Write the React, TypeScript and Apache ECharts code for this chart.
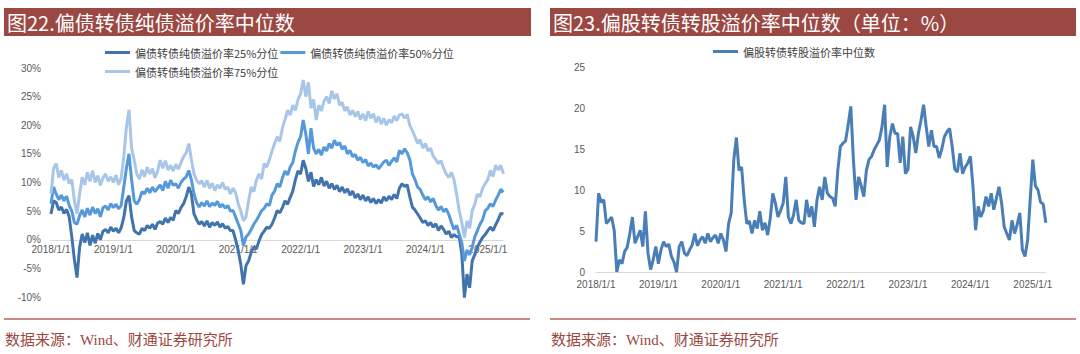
import React, { useEffect, useRef } from "react";
import * as echarts from "echarts";

// ---- Left chart: 偏债转债纯债溢价率 (%), semi-monthly samples from 2018/1/1 ----
const SERIES_LEFT = [
  "偏债转债纯债溢价率25%分位",
  "偏债转债纯债溢价率50%分位",
  "偏债转债纯债溢价率75%分位",
];
const SERIES_RIGHT = "偏股转债转股溢价率中位数";

const p25: number[] = [
  4.5, 6.8, 6.5, 5.2, 5.7, 4.6, 5.3, 4.0, 0.5, -3.5, -6.6, -1.3, 1.0, -0.5, 1.2, -1.0, 0.8, -0.6, 1.1, 0.0, 1.5, 1.8, 1.2, 2.2,
  1.5, 2.0, 1.2, 2.1, 3.9, 6.8, 7.7, 4.0, 1.6, 1.2, 1.0, 2.0, 1.6, 2.5, 2.0, 2.7, 1.8, 2.9, 3.2, 2.7, 3.8, 3.0, 3.9, 3.4,
  5.1, 4.6, 5.6, 6.3, 7.5, 9.2, 8.0, 4.5, 3.5, 2.7, 3.2, 2.4, 3.3, 2.2, 3.0, 2.5, 3.1, 2.2, 2.8, 2.0, 2.3, 1.6, 1.6, 0.0,
  -1.9, -4.3, -7.8, -4.5, -3.7, -2.2, -1.3, -1.6, -0.2, 0.9, 1.5, 2.2, 2.0, 2.7, 3.8, 5.1, 4.7, 5.6, 6.8, 6.2, 7.4, 8.5, 10.5, 12.0,
  11.5, 13.9, 12.5, 10.2, 11.8, 9.3, 10.5, 9.6, 10.9, 9.4, 10.2, 9.0, 9.8, 8.8, 9.5, 8.4, 9.2, 8.2, 8.9, 7.8, 8.5, 7.3, 8.0, 7.0,
  7.8, 6.8, 7.5, 6.5, 7.2, 6.3, 7.0, 6.4, 7.5, 6.8, 7.6, 7.0, 7.9, 7.2, 9.0, 9.8, 9.3, 9.6, 7.5, 5.7, 5.2, 4.5, 3.8, 3.0,
  3.3, 2.5, 3.0, 2.2, 2.8, 1.6, 2.4, 1.8, 1.0, 1.5, 0.4, 0.9, 0.5, 0.6, -2.5, -10.1, -6.0, -8.4, -3.7, -2.6, -1.3, -0.4, 0.4, 0.9,
  1.6, 2.2, 1.6, 2.6, 3.5, 4.6, 4.5,
];
const p50: number[] = [
  6.3, 9.2, 8.0, 7.0, 7.8, 6.8, 7.6, 6.0, 5.0, 3.0, 2.7, 4.2, 5.2, 4.0, 5.5, 4.3, 5.7, 4.6, 5.4, 4.0, 5.6, 5.9, 5.2, 6.3,
  5.6, 6.2, 5.4, 6.0, 9.2, 12.5, 15.0, 10.5, 6.8, 6.2, 7.0, 8.4, 8.0, 9.0, 8.2, 9.2, 8.4, 9.0, 9.6, 8.6, 10.2, 9.0, 10.4, 9.5,
  9.8, 9.0, 10.0, 10.6, 11.0, 12.1, 10.5, 8.0, 6.5, 5.7, 6.5, 5.9, 6.8, 5.8, 6.4, 6.0, 6.7, 5.7, 6.2, 5.5, 6.0, 5.0, 5.1, 4.0,
  2.8, 1.6, -1.0, 0.5, 1.0, 1.8, 2.7, 3.4, 4.2, 5.1, 5.5, 6.3, 6.0, 7.8, 8.5, 9.8, 9.2, 10.8, 12.0, 11.3, 12.7, 13.5, 15.5, 17.0,
  18.0, 20.9, 18.5, 15.0, 19.5, 16.0, 15.0, 15.8, 14.8, 16.2, 15.5, 16.8, 16.0, 17.4, 16.5, 17.0, 15.8, 16.4, 15.0, 15.6, 14.5, 14.9, 13.9, 14.4,
  13.5, 14.0, 12.9, 13.4, 12.7, 13.1, 12.4, 13.0, 13.6, 13.9, 13.0, 13.7, 14.3, 13.6, 15.6, 15.0, 15.9, 15.2, 14.0, 11.5, 10.5, 9.2, 8.8, 7.8,
  7.0, 7.5, 6.6, 7.2, 6.0, 5.2, 5.8, 4.9, 5.4, 4.4, 3.0, 1.8, 2.5, 1.0, -0.5, -3.7, -1.8, -2.6, -1.3, 0.5, 1.6, 2.7, 3.5, 5.1,
  5.5, 6.3, 5.8, 6.9, 7.8, 8.8, 8.3,
];
const p75: number[] = [
  8.0, 12.5, 13.3, 10.9, 12.1, 10.4, 11.5, 9.8, 10.5, 6.8, 4.5, 8.0, 10.9, 9.6, 11.8, 10.2, 12.1, 10.0, 11.2, 9.5, 10.8, 11.5, 10.2, 11.0,
  10.0, 11.3, 9.6, 10.8, 14.5, 19.7, 22.7, 16.0, 13.9, 11.5, 10.6, 12.2, 11.0, 12.7, 11.5, 12.4, 10.8, 12.0, 13.9, 12.5, 13.8, 12.2, 13.0, 12.0,
  13.2, 12.3, 13.5, 14.5, 15.2, 16.8, 14.0, 11.5, 10.4, 9.8, 10.3, 9.2, 10.4, 9.0, 9.9, 8.6, 9.6, 9.0, 10.0, 8.8, 9.2, 8.0, 9.0, 8.2,
  6.3, 5.0, 3.3, 4.0, 6.8, 9.2, 8.4, 10.4, 11.5, 10.6, 13.3, 12.7, 14.0, 15.5, 16.8, 18.0, 17.2, 19.5, 21.0, 22.6, 21.8, 23.5, 22.6, 24.5,
  25.5, 27.9, 25.0, 27.5, 23.0, 24.5, 20.9, 23.5, 22.5, 24.2, 25.0, 23.8, 26.0, 24.6, 25.5, 23.5, 24.0, 22.5, 23.2, 21.8, 22.6, 21.5, 22.4, 21.0,
  22.0, 20.8, 22.4, 21.2, 22.0, 20.5, 21.5, 20.2, 21.2, 20.0, 21.0, 20.4, 21.6, 20.8, 21.8, 22.0, 21.2, 21.9, 20.0, 19.0, 18.0, 16.8, 17.5, 16.0,
  16.8, 15.5, 16.0, 14.6, 14.0, 13.3, 13.8, 12.5, 11.5, 10.9, 11.8, 10.5, 8.0, 5.1, 3.0, 0.4, 3.3, 2.0, 5.1, 6.2, 8.0, 7.5, 9.0, 9.8,
  10.5, 12.1, 11.0, 13.0, 12.2, 13.0, 11.5,
];

// ---- Right chart: 偏股转债转股溢价率中位数 (%), semi-monthly samples from 2018/1/1 ----
const stockPremium: number[] = [
  3.7, 9.6, 8.5, 8.8, 5.9, 6.3, 6.7, 5.1, 0.0, 1.5, 1.0, 2.5, 3.0, 4.7, 6.7, 3.5, 4.3, 5.1, 3.1, 7.4, 2.3, 0.3, 1.5, 3.1,
  1.0, 2.7, 3.7, 3.1, 3.4, 1.9, 1.2, 0.0, 3.1, 3.7, 2.3, 2.0, 2.7, 3.3, 4.7, 3.2, 3.9, 4.3, 3.5, 4.7, 3.7, 4.2, 4.5, 3.5,
  4.7, 3.9, 2.5, 5.9, 7.2, 13.7, 16.4, 12.4, 12.8, 8.8, 5.9, 6.2, 4.7, 6.3, 5.3, 7.4, 5.1, 6.0, 4.5, 6.5, 9.6, 8.4, 6.7, 7.5,
  8.4, 11.6, 6.7, 5.9, 7.0, 8.8, 6.3, 6.0, 5.9, 8.8, 6.7, 8.0, 5.5, 8.8, 10.4, 8.8, 11.6, 9.6, 9.2, 9.0, 8.0, 12.4, 15.3, 15.7,
  16.0, 18.0, 20.2, 13.7, 8.8, 11.6, 10.5, 9.2, 12.4, 13.7, 14.1, 14.9, 15.5, 16.1, 17.7, 20.4, 12.8, 16.5, 18.1, 16.9, 16.9, 13.3, 16.5, 12.0,
  12.5, 17.7, 16.5, 14.5, 16.9, 18.5, 20.4, 17.7, 15.3, 17.3, 15.3, 15.3, 13.9, 15.0, 16.5, 17.1, 17.5, 15.3, 12.5, 12.2, 14.5, 12.0, 12.8, 13.3,
  14.1, 10.4, 5.1, 8.0, 6.7, 7.5, 9.2, 8.0, 9.6, 7.6, 9.0, 10.4, 8.4, 5.5, 4.7, 3.9, 6.3, 4.7, 5.8, 7.2, 2.7, 1.9, 3.9, 8.8,
  13.7, 10.5, 10.0, 8.5, 8.3, 6.0,
];

const START_YEAR = 2018;
const SAMPLES_PER_YEAR = 24; // 1st and 16th of each month
const yearTicks = [2018, 2019, 2020, 2021, 2022, 2023, 2024, 2025];
const leftYTicks = { min: -10, max: 30, step: 5 };
const rightYTicks = { min: 0, max: 25, step: 5 };

const toPairs = (vals: number[]) =>
  vals.map((v, i) => [START_YEAR + i / SAMPLES_PER_YEAR, v]);

const TITLE_LEFT = "图22.偏债转债纯债溢价率中位数";
const TITLE_RIGHT = "图23.偏股转债转股溢价率中位数（单位：%）";
const SOURCE = "数据来源：Wind、财通证券研究所";

const C_DARK = "#4173AC";
const C_MID = "#5699DA";
const C_LIGHT = "#A8C6E8";
const C_RIGHT = "#4A7EB7";
const BAR = "#9B4842";

export default function App() {
  const ref = useRef<HTMLDivElement>(null);
  useEffect(() => {
    document.body.style.margin = "0";
    if (!ref.current) return;
    const chart = echarts.init(ref.current, undefined, { renderer: "svg" });
    const labelFont = { fontSize: 10, color: "#595959", fontFamily: "'Liberation Sans', Arial, sans-serif" };
    const yearFmt = (v: number) =>
      yearTicks.indexOf(Math.round(v)) >= 0 && Math.abs(v - Math.round(v)) < 1e-6 ? `${Math.round(v)}/1/1` : "";
    const lastL = START_YEAR + (p25.length - 1) / SAMPLES_PER_YEAR;
    const lastR = START_YEAR + (stockPremium.length - 1) / SAMPLES_PER_YEAR;
    const gridL = { left: 51, top: 68, width: (lastL - START_YEAR) * 62.4, height: 229 };
    const gridR = { left: 596, top: 67, width: (lastR - START_YEAR) * 62.4, height: 205 };
    // distance from grid bottom up to the 0% level on the left chart
    const zeroOffsetL = (gridL.height * (0 - leftYTicks.min)) / (leftYTicks.max - leftYTicks.min);
    const legendText = { fontSize: 11, color: "#404040", fontFamily: "'Noto Sans CJK SC', sans-serif" };
    const legendBase = {
      icon: "rect",
      itemWidth: 25,
      itemHeight: 3,
      itemGap: 2,
      itemStyle: { borderWidth: 0 },
      padding: 0,
      selectedMode: false,
      textStyle: legendText,
    };
    chart.setOption({
      animation: false,
      backgroundColor: "#ffffff",
      legend: [
        { ...legendBase, data: [SERIES_LEFT[0], SERIES_LEFT[1]], left: 105, top: 47 },
        { ...legendBase, data: [SERIES_LEFT[2]], left: 105, top: 66 },
        { ...legendBase, data: [SERIES_RIGHT], left: 713, top: 46 },
      ],
      grid: [gridL, gridR],
      xAxis: [
        {
          type: "value", gridIndex: 0, min: START_YEAR, max: lastL, interval: 1,
          position: "bottom", offset: -zeroOffsetL,
          axisLine: { show: true, onZero: false, lineStyle: { color: "#d9d9d9", width: 1 } },
          axisTick: { show: false }, splitLine: { show: false },
          axisLabel: { ...labelFont, margin: 5, formatter: yearFmt, showMaxLabel: false },
        },
        {
          type: "value", gridIndex: 1, min: START_YEAR, max: lastR, interval: 1,
          position: "bottom",
          axisLine: { show: true, onZero: false, lineStyle: { color: "#d9d9d9", width: 1 } },
          axisTick: { show: false }, splitLine: { show: false },
          axisLabel: { ...labelFont, margin: 7, formatter: yearFmt, showMaxLabel: false },
        },
      ],
      yAxis: [
        {
          type: "value", gridIndex: 0, min: leftYTicks.min, max: leftYTicks.max, interval: leftYTicks.step,
          axisLine: { show: false }, axisTick: { show: false }, splitLine: { show: false },
          axisLabel: { ...labelFont, margin: 10, formatter: "{value}%" },
        },
        {
          type: "value", gridIndex: 1, min: rightYTicks.min, max: rightYTicks.max, interval: rightYTicks.step,
          axisLine: { show: false }, axisTick: { show: false }, splitLine: { show: false },
          axisLabel: { ...labelFont, margin: 11 },
        },
      ],
      series: [
        { name: SERIES_LEFT[0], type: "line", xAxisIndex: 0, yAxisIndex: 0, data: toPairs(p25), showSymbol: false, color: C_DARK, lineStyle: { width: 3, color: C_DARK } },
        { name: SERIES_LEFT[1], type: "line", xAxisIndex: 0, yAxisIndex: 0, data: toPairs(p50), showSymbol: false, color: C_MID, lineStyle: { width: 3, color: C_MID } },
        { name: SERIES_LEFT[2], type: "line", xAxisIndex: 0, yAxisIndex: 0, data: toPairs(p75), showSymbol: false, color: C_LIGHT, lineStyle: { width: 3, color: C_LIGHT } },
        { name: SERIES_RIGHT, type: "line", xAxisIndex: 1, yAxisIndex: 1, data: toPairs(stockPremium), showSymbol: false, color: C_RIGHT, lineStyle: { width: 3, color: C_RIGHT } },
      ],
      graphic: [
        { type: "rect", shape: { x: 4, y: 8, width: 527, height: 28 }, style: { fill: BAR } },
        { type: "rect", shape: { x: 550, y: 8, width: 526, height: 28 }, style: { fill: BAR } },
        { type: "text", x: 7, y: 22, style: { text: TITLE_LEFT, fill: "#ffffff", fontSize: 20, fontFamily: "'Noto Sans CJK SC', sans-serif", verticalAlign: "middle" } },
        { type: "text", x: 553, y: 22, style: { text: TITLE_RIGHT, fill: "#ffffff", fontSize: 20, fontFamily: "'Noto Sans CJK SC', sans-serif", verticalAlign: "middle" } },
        { type: "line", shape: { x1: 4, y1: 319, x2: 530, y2: 319 }, style: { stroke: "#B8625C", lineWidth: 1.5 } },
        { type: "line", shape: { x1: 550, y1: 319, x2: 1076, y2: 319 }, style: { stroke: "#B8625C", lineWidth: 1.5 } },
        { type: "text", x: 5, y: 340, style: { text: SOURCE, fill: BAR, fontSize: 15, fontFamily: "'Liberation Serif', 'Noto Sans CJK SC', serif", verticalAlign: "middle" } },
        { type: "text", x: 551, y: 340, style: { text: SOURCE, fill: BAR, fontSize: 15, fontFamily: "'Liberation Serif', 'Noto Sans CJK SC', serif", verticalAlign: "middle" } },
      ],
    });
    return () => chart.dispose();
  }, []);
  return <div ref={ref} style={{ width: 1080, height: 354 }} />;
}
